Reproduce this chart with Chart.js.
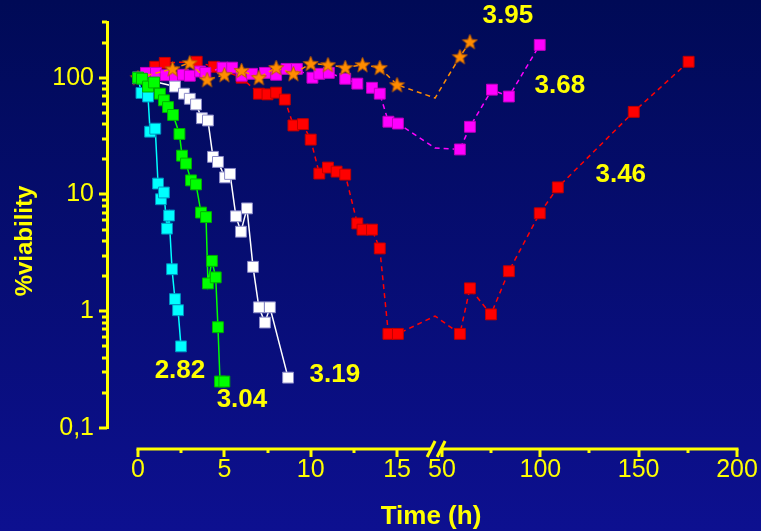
<!DOCTYPE html>
<html><head><meta charset="utf-8">
<script src="https://cdn.jsdelivr.net/npm/chart.js@4"></script>
<style>html,body{margin:0;padding:0;background:#060d70;}canvas{display:block}</style>
</head><body>
<canvas id="c" width="761" height="531"></canvas>
<script>
// ---------- data: time (h) and % viability ----------
const T_282 = [0,0.2,0.58,0.7,1.0,1.16,1.33,1.5,1.68,1.8,1.97,2.14,2.32,2.49];
const V_282 = [100,74,69,34.5,36.6,12.4,9.1,10.4,5.1,6.6,2.29,1.27,1.02,0.50];

const T_304 = [0,0.23,0.58,0.93,1.27,1.5,1.74,2.03,2.4,2.55,2.78,3.07,3.36,3.65,3.94,4.05,4.28,4.5,4.63,4.75,5.0];
const V_304 = [100,98,84,91,73,64,56,48,33,21.5,18.4,13.2,12.2,7.0,6.4,1.73,2.7,1.95,0.73,0.25,0.25];

const T_319 = [0,2.14,2.66,3.0,3.36,3.7,4.05,4.34,4.63,5.04,5.33,5.67,5.96,6.31,6.66,7.0,7.35,7.64,8.69];
const V_319 = [100,84,73,66,59,45,43,21,19,14,15,6.5,4.8,7.6,2.4,1.08,0.8,1.08,0.27];

const T_346 = [0,1.0,1.55,3.4,4.4,6.0,7.0,7.5,8.0,8.5,9.0,9.55,10.0,10.5,11.0,11.5,12.0,12.7,13.0,13.55,14.0,14.5,15.05,17.2,59.1,64.2,74.9,84,99.7,108.9,147.5,175.4];
const V_346 = [100,124,134,137,124,100,73,72,74.5,65,39,40,29.5,15.1,17,15.7,14.8,5.65,5.0,5.0,3.45,0.64,0.64,0.91,0.64,1.57,0.94,2.2,6.9,11.5,51,137];

const T_368 = [0,0.46,1.04,1.6,2.14,2.6,3.0,3.6,3.9,4.9,5.45,6.0,6.6,7.35,8.0,8.6,9.2,10.1,10.5,11.05,12.0,12.7,13.55,14.0,14.5,15.05,17.2,59.1,64.2,75.4,84,99.7];
const V_368 = [100,110,110,105,100,106,104,113,110,122,122,104,108,110,106,119,119,100,108,110,98,89,82,73,42,40.5,25,24.3,38,79,69,191];

const T_395 = [0,2,3,4,5,6,7,8,9,10,11,12,13,14,15,17.2,59.1,64.2];
const V_395 = [100,119,134,96,106,115,100,122,108,132,129,122,129,122,87,67,151,203];

const X_TICKS = [0,5,10,15,50,100,150,200];
const X_TICK_LABELS = ['0','5','10','15','50','100','150','200'];
const X_MINOR = [2.5,7.5,12.5,75,125,175];
const Y_TICKS = [0.1,1,10,100];
const Y_TICK_LABELS = ['0,1','1','10','100'];
const Y_MINOR = [0.2,0.3,0.4,0.5,0.6,0.7,0.8,0.9,2,3,4,5,6,7,8,9,20,30,40,50,60,70,80,90,200,300];

const NOTE_TEXT = ['2.82','3.04','3.19','3.46','3.68','3.95'];
const NOTE_T = [2.43,6.02,11.4,140.9,109.9,83.5];
const NOTE_V = [0.307,0.173,0.284,14.8,85.5,339];

// ---------- broken time axis: 0-17 h linear, then 50-200 h compressed ----------
const BREAK_LEFT = 17.0;       // end of first segment (h)
const RIGHT_START = 17.603;    // where 50 h sits, in first-segment units
const RIGHT_SCALE = 0.11388;   // compression of second segment
function tv(t){ return t <= 17.6 ? t : RIGHT_START + (t - 50) * RIGHT_SCALE; }
function inGap(t){ return t > 15.5 && t < 50; }

const YEL = '#ffff00';
const FONT = "'Liberation Sans', Arial, sans-serif";
Chart.defaults.font.family = FONT;

function pts(T, V){ return T.map((t,i)=>({x: tv(t), y: V[i], gap: inGap(t)})); }

// star marker
function makeStar(){
  const c = document.createElement('canvas'); c.width = 17; c.height = 17;
  const g = c.getContext('2d');
  g.beginPath();
  for (let i=0;i<10;i++){
    const r = i%2===0 ? 8 : 3.4;
    const a = -Math.PI/2 + i*Math.PI/5;
    const px = 8.5 + r*Math.cos(a), py = 9 + r*Math.sin(a);
    i===0 ? g.moveTo(px,py) : g.lineTo(px,py);
  }
  g.closePath();
  g.fillStyle = '#ff8c00'; g.fill();
  g.lineWidth = 1; g.strokeStyle = '#b85a00'; g.stroke();
  return c;
}
const STAR = makeStar();

const R = 7.7;
function sq(color, border, T, V, dashed, order){
  return {
    data: pts(T,V), order,
    borderColor: color, borderWidth: 1.5, borderDash: dashed ? [5,4] : [],
    pointStyle: 'rect', pointBackgroundColor: color, pointBorderColor: border, pointBorderWidth: 1,
    pointRadius: c => (c.raw && c.raw.gap) ? 0 : R,
    tension: 0, clip: false
  };
}

const datasets = [
  sq('#00ff00', '#00b000', T_304, V_304, false, 0),
  sq('#00ffff', '#0090c0', T_282, V_282, false, 1),
  sq('#ffffff', '#8a8ac8', T_319, V_319, false, 2),
  { data: pts(T_395,V_395), order: 3, borderColor:'#ff8c00', borderWidth:1.5, borderDash:[5,4],
    pointStyle: STAR, pointRadius: c => (c.raw && c.raw.gap) ? 0 : 8, tension:0, clip:false },
  sq('#ff00ff', '#c000c0', T_368, V_368, true, 4),
  sq('#ff0000', '#c00000', T_346, V_346, true, 5)
];

const deco = {
  id: 'deco',
  beforeDraw(chart){
    const {ctx, width, height} = chart;
    const g = ctx.createLinearGradient(0,0,0,height);
    g.addColorStop(0,'#000a56'); g.addColorStop(1,'#0d1090');
    ctx.save(); ctx.fillStyle = g; ctx.fillRect(0,0,width,height); ctx.restore();
  },
  afterDraw(chart){
    const {ctx, chartArea:a, scales:{x, y}} = chart;
    ctx.save();
    ctx.strokeStyle = YEL; ctx.lineWidth = 3; ctx.lineCap = 'butt';
    // y tick marks
    const yt = (v, len) => { const p = Math.round(y.getPixelForValue(v)); ctx.beginPath(); ctx.moveTo(a.left - len, p); ctx.lineTo(a.left, p); ctx.stroke(); };
    Y_TICKS.forEach(v => yt(v, 8));
    Y_MINOR.forEach(v => yt(v, 5));
    // x axis (offset below plot), with a break
    const ay = Math.round(a.bottom + 21);
    const x0 = x.getPixelForValue(tv(0)), xb1 = x.getPixelForValue(BREAK_LEFT),
          xb2 = x.getPixelForValue(tv(49.8)), x1 = x.getPixelForValue(tv(200));
    ctx.beginPath(); ctx.moveTo(x0-1.5, ay); ctx.lineTo(xb1, ay); ctx.moveTo(xb2, ay); ctx.lineTo(x1+1.5, ay); ctx.stroke();
    const xt = (t, len) => { const p = Math.round(x.getPixelForValue(tv(t))); ctx.beginPath(); ctx.moveTo(p, ay); ctx.lineTo(p, ay+len); ctx.stroke(); };
    X_TICKS.forEach(t => xt(t, 8));
    X_MINOR.forEach(t => xt(t, 4));
    // break marks
    [xb1, xb2].forEach(cx => { ctx.beginPath(); ctx.moveTo(cx-4.5, ay+8); ctx.lineTo(cx+3.5, ay-8); ctx.stroke(); });
    // titles
    ctx.fillStyle = YEL; ctx.textAlign = 'center'; ctx.textBaseline = 'middle';
    ctx.font = `bold 26px ${FONT}`;
    ctx.fillText('Time (h)', 431, 517);
    ctx.save(); ctx.translate(25, 241); ctx.rotate(-Math.PI/2);
    ctx.font = `bold 24px ${FONT}`; ctx.fillText('%viability', 0, 0); ctx.restore();
    // curve labels
    ctx.font = `bold 26px ${FONT}`;
    NOTE_TEXT.forEach((s,i) => ctx.fillText(s, x.getPixelForValue(tv(NOTE_T[i])), y.getPixelForValue(NOTE_V[i])));
    ctx.restore();
  }
};

new Chart(document.getElementById('c'), {
  type: 'line',
  data: { datasets },
  options: {
    responsive: false, animation: false,
    layout: { padding: { top: 22, right: 24, left: 0, bottom: 0 } },
    plugins: { legend: { display: false }, tooltip: { enabled: false } },
    scales: {
      x: {
        type: 'linear', min: -1.795, max: 34.685,
        afterFit: s => { s.height = 103; s.paddingLeft = 0; s.paddingRight = 0; s.paddingTop = 0; s.paddingBottom = 0; },
        afterBuildTicks: s => { s.ticks = X_TICKS.map(t => ({ value: tv(t) })); },
        grid: { display: false, drawTicks: false }, border: { display: false },
        ticks: { autoSkip: false, maxRotation: 0, padding: 27, color: YEL, font: { size: 25 },
                 callback: (v, i) => X_TICK_LABELS[i] }
      },
      y: {
        type: 'logarithmic', min: 0.1, max: 300,
        afterFit: s => { s.width = 107; s.paddingLeft = 0; s.paddingRight = 0; s.paddingTop = 0; s.paddingBottom = 0; },
        afterBuildTicks: s => { s.ticks = Y_TICKS.map(v => ({ value: v })); },
        grid: { drawOnChartArea: false, drawTicks: false },
        border: { display: true, color: YEL, width: 3 },
        ticks: { padding: 13, color: YEL, font: { size: 25 },
                 callback: (v, i) => Y_TICK_LABELS[i] }
      }
    }
  },
  plugins: [deco]
});
</script>
</body></html>
